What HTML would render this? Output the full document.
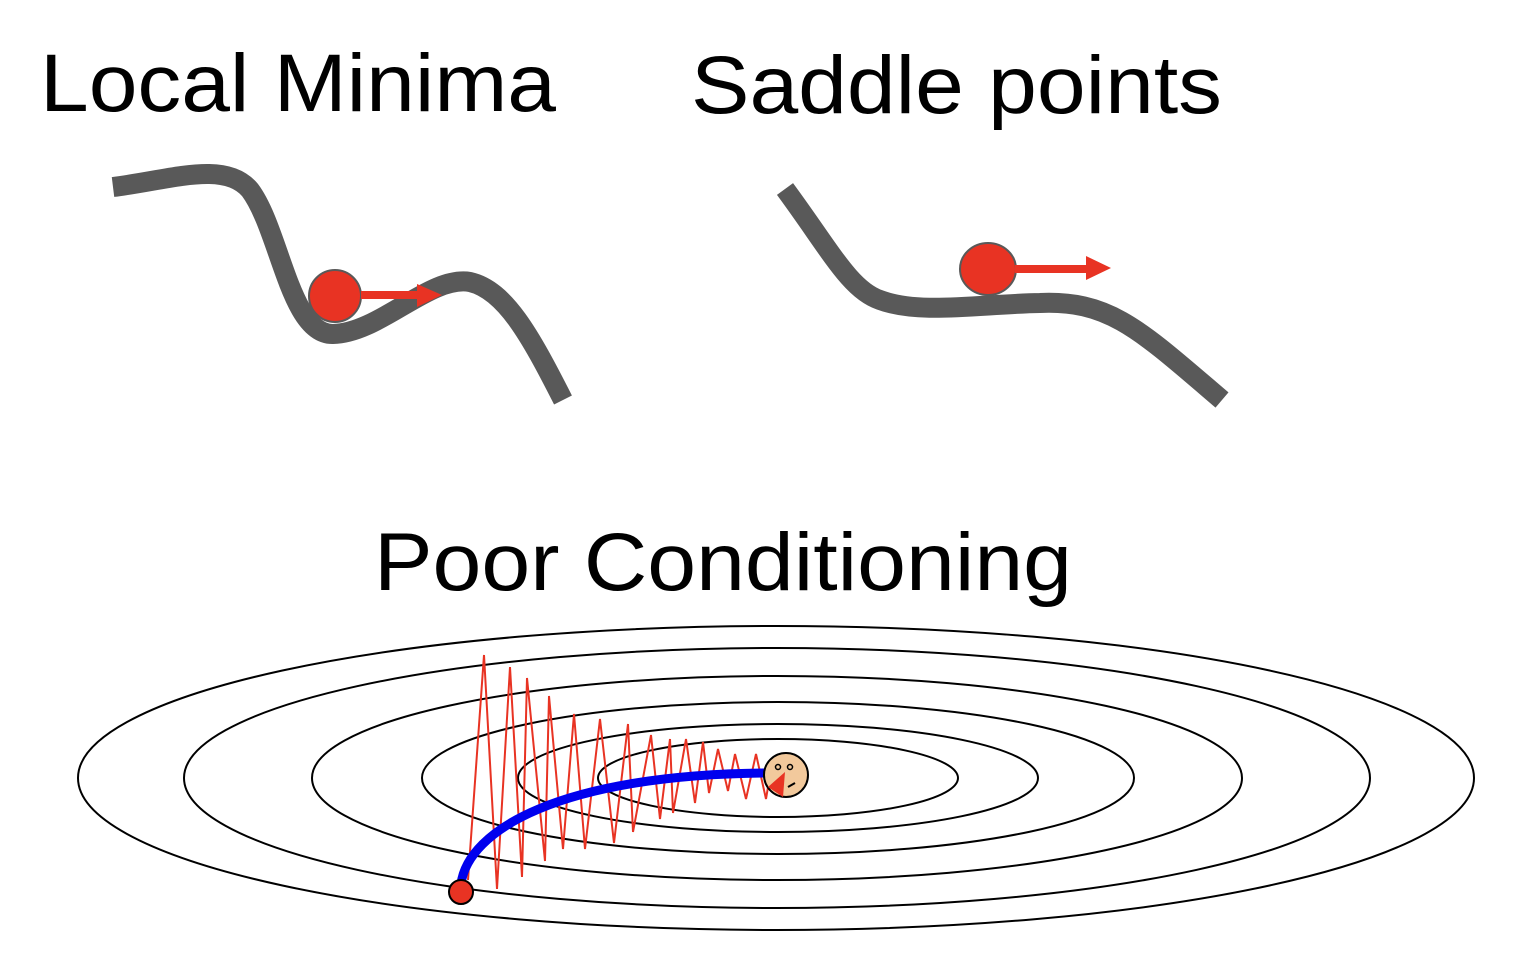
<!DOCTYPE html>
<html><head><meta charset="utf-8"><style>
html,body{margin:0;padding:0;background:#fff;}
svg{display:block;}
text{font-family:"Liberation Sans",Arial,sans-serif;fill:#000;}
</style></head><body>
<svg width="1514" height="972" viewBox="0 0 1514 972" xmlns="http://www.w3.org/2000/svg">
<text x="40" y="111" font-size="82" textLength="516" lengthAdjust="spacingAndGlyphs">Local Minima</text>
<text x="691" y="113" font-size="82" textLength="531" lengthAdjust="spacingAndGlyphs">Saddle points</text>
<text x="374" y="590" font-size="82" textLength="698" lengthAdjust="spacingAndGlyphs">Poor Conditioning</text>

<path d="M113,187 C170,180 225,160 250,190 C280,230 290,335 333,334 C380,333 430,275 470,282 C505,290 530,335 563,400" fill="none" stroke="#595959" stroke-width="20"/>
<circle cx="335" cy="296" r="26" fill="#e83323" stroke="#595959" stroke-width="2"/>
<rect x="361" y="291" width="60" height="8" fill="#e83323"/>
<polygon points="417,284 442,295 417,307" fill="#e83323"/>

<path d="M785,189 C830,250 850,290 880,300 C920,315 980,304 1040,303 C1110,300 1140,330 1222,400" fill="none" stroke="#595959" stroke-width="20"/>
<ellipse cx="988" cy="269" rx="28" ry="26" fill="#e83323" stroke="#595959" stroke-width="2"/>
<rect x="1015" y="265" width="72" height="8" fill="#e83323"/>
<polygon points="1086,256 1111,268 1086,280" fill="#e83323"/>

<g fill="none" stroke="#000" stroke-width="2">
<ellipse cx="776" cy="778" rx="698" ry="152"/>
<ellipse cx="777" cy="778" rx="593" ry="130"/>
<ellipse cx="777" cy="778" rx="465" ry="102"/>
<ellipse cx="778" cy="778" rx="356" ry="76"/>
<ellipse cx="778" cy="778" rx="260" ry="54"/>
<ellipse cx="778" cy="778" rx="180" ry="39"/>
</g>

<polyline fill="none" stroke="#e83323" stroke-width="2" points="468,880 484,655 497,889 510,667 522,877 527,678 545,861 549,696 563,849 574,714 585,849 600,719 614,843 628,724 633,832 651,735 660,819 670,739 673,813 686,739 695,803 703,742 709,793 718,749 728,791 735,754 746,799 756,754 766,799 772,763"/>

<path d="M461,884 C468,830 560,775 765,773" fill="none" stroke="#0000ee" stroke-width="9"/>
<circle cx="461" cy="892" r="12" fill="#e83323" stroke="#000" stroke-width="2"/>

<circle cx="786" cy="775" r="22" fill="#f2c99c" stroke="#000" stroke-width="2"/>
<circle cx="778" cy="767" r="2.5" fill="none" stroke="#000" stroke-width="1.5"/>
<circle cx="790" cy="767" r="2.5" fill="none" stroke="#000" stroke-width="1.5"/>
<path d="M788,787 L795,783" stroke="#000" stroke-width="2"/>
<polygon points="768,787 785,772 783,797" fill="#e83323"/>
</svg>
</body></html>
